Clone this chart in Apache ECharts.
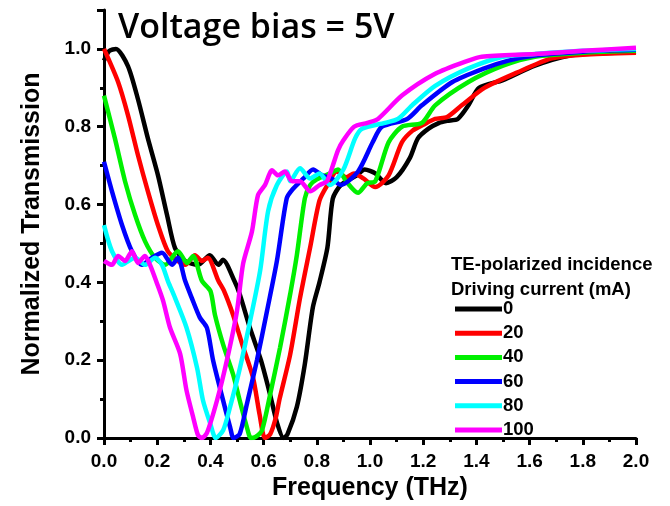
<!DOCTYPE html>
<html>
<head>
<meta charset="utf-8">
<script src="https://cdn.jsdelivr.net/npm/echarts@6/dist/echarts.min.js"></script>
<style>
html,body{margin:0;padding:0;background:#fff;}
#chart{width:670px;height:506px;}
</style>
</head>
<body>
<div id="chart"></div>
<script>
// Driving currents (mA)
const currents = ['0', '20', '40', '60', '80', '100'];
const colors = ['#000000', '#ff0000', '#00f000', '#0000ff', '#00ffff', '#ff00ff'];

// 0 mA
const freq0 = [0, 0.02, 0.045, 0.09, 0.128, 0.165, 0.203, 0.237, 0.267, 0.305, 0.353, 0.398, 0.43, 0.447, 0.49, 0.51, 0.55, 0.59, 0.625, 0.65, 0.675, 0.69, 0.725, 0.755, 0.785, 0.81, 0.84, 0.86, 0.89, 0.95, 0.98, 1.02, 1.06, 1.10, 1.15, 1.18, 1.22, 1.26, 1.29, 1.33, 1.37, 1.41, 1.5, 1.62, 1.75, 1.85, 2.0];
const trans0 = [0.97, 0.995, 1.0, 0.956, 0.87, 0.77, 0.675, 0.573, 0.488, 0.455, 0.445, 0.47, 0.445, 0.458, 0.404, 0.37, 0.28, 0.2, 0.11, 0.04, 0.0, 0.01, 0.08, 0.19, 0.335, 0.40, 0.49, 0.615, 0.65, 0.675, 0.69, 0.68, 0.655, 0.67, 0.72, 0.77, 0.795, 0.81, 0.815, 0.82, 0.855, 0.9, 0.92, 0.957, 0.983, 0.988, 0.993];

// 20 mA
const freq20 = [0, 0.053, 0.09, 0.128, 0.165, 0.203, 0.24, 0.278, 0.305, 0.342, 0.368, 0.39, 0.43, 0.45, 0.485, 0.52, 0.56, 0.585, 0.605, 0.625, 0.645, 0.66, 0.70, 0.737, 0.775, 0.81, 0.84, 0.875, 0.91, 0.94, 0.975, 1.02, 1.07, 1.12, 1.16, 1.2, 1.245, 1.29, 1.345, 1.43, 1.555, 1.68, 1.8, 2.0];
const trans20 = [1.0, 0.915, 0.83, 0.726, 0.634, 0.547, 0.48, 0.455, 0.445, 0.47, 0.455, 0.463, 0.404, 0.38, 0.317, 0.24, 0.156, 0.06, 0.0, 0.01, 0.05, 0.1, 0.215, 0.36, 0.49, 0.61, 0.65, 0.685, 0.67, 0.68, 0.667, 0.645, 0.675, 0.76, 0.79, 0.805, 0.82, 0.825, 0.855, 0.9, 0.94, 0.975, 0.985, 0.99];

// 40 mA
const freq40 = [0, 0.041, 0.079, 0.117, 0.154, 0.192, 0.23, 0.278, 0.312, 0.335, 0.368, 0.40, 0.417, 0.448, 0.485, 0.51, 0.537, 0.552, 0.57, 0.594, 0.624, 0.662, 0.70, 0.725, 0.755, 0.775, 0.80, 0.85, 0.88, 0.91, 0.955, 0.99, 1.02, 1.07, 1.12, 1.195, 1.245, 1.37, 1.5, 1.62, 1.8, 2.0];
const trans40 = [0.88, 0.77, 0.66, 0.573, 0.506, 0.463, 0.445, 0.48, 0.45, 0.468, 0.404, 0.378, 0.317, 0.24, 0.164, 0.097, 0.028, 0.0, 0.003, 0.02, 0.11, 0.233, 0.37, 0.47, 0.616, 0.65, 0.665, 0.68, 0.69, 0.66, 0.63, 0.655, 0.66, 0.76, 0.80, 0.81, 0.855, 0.915, 0.957, 0.98, 0.99, 0.995];

// 60 mA
const freq60 = [0, 0.03, 0.068, 0.105, 0.143, 0.18, 0.218, 0.256, 0.278, 0.305, 0.33, 0.36, 0.387, 0.41, 0.448, 0.474, 0.487, 0.51, 0.537, 0.575, 0.613, 0.65, 0.687, 0.71, 0.75, 0.786, 0.82, 0.86, 0.89, 0.955, 1.01, 1.045, 1.14, 1.195, 1.31, 1.43, 1.52, 1.62, 1.8, 2.0];
const trans60 = [0.71, 0.634, 0.547, 0.48, 0.445, 0.463, 0.476, 0.445, 0.463, 0.404, 0.36, 0.31, 0.283, 0.2, 0.096, 0.028, 0.0, 0.01, 0.087, 0.2, 0.327, 0.455, 0.616, 0.64, 0.667, 0.69, 0.675, 0.665, 0.65, 0.685, 0.76, 0.80, 0.82, 0.855, 0.915, 0.95, 0.97, 0.983, 0.993, 0.998];

// 80 mA
const freq80 = [0, 0.03, 0.068, 0.092, 0.117, 0.154, 0.192, 0.218, 0.24, 0.267, 0.31, 0.35, 0.372, 0.40, 0.42, 0.448, 0.474, 0.511, 0.549, 0.587, 0.617, 0.65, 0.688, 0.70, 0.737, 0.775, 0.81, 0.85, 0.9, 0.944, 0.97, 1.056, 1.105, 1.158, 1.245, 1.37, 1.5, 1.62, 1.8, 2.0];
const trans80 = [0.547, 0.48, 0.445, 0.455, 0.463, 0.445, 0.463, 0.445, 0.404, 0.36, 0.284, 0.18, 0.097, 0.036, 0.0, 0.02, 0.08, 0.18, 0.3, 0.43, 0.583, 0.65, 0.685, 0.66, 0.693, 0.667, 0.68, 0.65, 0.69, 0.77, 0.795, 0.81, 0.82, 0.855, 0.905, 0.95, 0.98, 0.987, 0.995, 1.0];

// 100 mA
const freq100 = [0, 0.03, 0.053, 0.079, 0.105, 0.128, 0.154, 0.173, 0.2, 0.222, 0.248, 0.286, 0.31, 0.335, 0.353, 0.368, 0.387, 0.425, 0.462, 0.5, 0.523, 0.556, 0.579, 0.605, 0.632, 0.654, 0.68, 0.707, 0.737, 0.775, 0.81, 0.838, 0.86, 0.88, 0.90, 0.94, 0.99, 1.03, 1.12, 1.245, 1.37, 1.42, 1.62, 1.8, 2.0];
const trans100 = [0.455, 0.445, 0.468, 0.455, 0.48, 0.45, 0.468, 0.445, 0.396, 0.353, 0.284, 0.217, 0.123, 0.054, 0.008, 0.0, 0.013, 0.097, 0.2, 0.327, 0.448, 0.53, 0.624, 0.65, 0.688, 0.675, 0.685, 0.66, 0.66, 0.634, 0.65, 0.66, 0.70, 0.74, 0.765, 0.80, 0.81, 0.82, 0.88, 0.936, 0.97, 0.98, 0.987, 0.995, 1.003];

const freqs = [freq0, freq20, freq40, freq60, freq80, freq100];
const transs = [trans0, trans20, trans40, trans60, trans80, trans100];

const chart = echarts.init(document.getElementById('chart'), null, {renderer: 'canvas'});
const FONT = 'Liberation Sans, Arial, sans-serif';
const labelFont = {fontFamily: FONT, fontWeight: 'bold', color: '#000'};

const series = currents.map((c, i) => ({
  name: c,
  type: 'line',
  data: freqs[i].map((f, k) => [f, transs[i][k]]),
  showSymbol: false,
  symbol: 'none',
  smooth: 0.25,
  lineStyle: {color: colors[i], width: 4.5},
  itemStyle: {color: colors[i]},
  z: 2 + i
}));

chart.setOption({
  animation: false,
  backgroundColor: '#fff',
  grid: {left: 104, right: 34, top: 10, bottom: 65, containLabel: false},
  xAxis: {
    type: 'value', min: 0, max: 2.0, interval: 0.2,
    name: 'Frequency (THz)', nameLocation: 'middle', nameGap: 38,
    nameTextStyle: Object.assign({fontSize: 25}, labelFont),
    axisLine: {lineStyle: {color: '#000', width: 3}},
    axisTick: {show: true, length: 7, lineStyle: {color: '#000', width: 3}},
    minorTick: {show: true, splitNumber: 2, length: 4, lineStyle: {color: '#000', width: 3}},
    axisLabel: Object.assign({fontSize: 19, margin: 14, formatter: v => v.toFixed(1)}, labelFont),
    splitLine: {show: false}
  },
  yAxis: {
    type: 'value', min: 0, max: 1.1, interval: 0.2,
    name: 'Normalized Transmission', nameLocation: 'middle', nameGap: 59,
    nameTextStyle: Object.assign({fontSize: 25}, labelFont),
    axisLine: {lineStyle: {color: '#000', width: 3}},
    axisTick: {show: true, length: 7, lineStyle: {color: '#000', width: 3}},
    minorTick: {show: true, splitNumber: 2, length: 4, lineStyle: {color: '#000', width: 3}},
    axisLabel: Object.assign({fontSize: 19, margin: 13, showMaxLabel: false,
      formatter: v => (Math.abs(v * 5 - Math.round(v * 5)) < 1e-6 ? v.toFixed(1) : '')}, labelFont),
    splitLine: {show: false}
  },
  legend: {
    orient: 'vertical', left: 450, top: 294,
    icon: 'rect',
    itemWidth: 47, itemHeight: 5, itemGap: 4.2,
    textStyle: Object.assign({fontSize: 18.5, lineHeight: 20, padding: [0, 0, 0, -4]}, labelFont),
    data: currents
  },
  graphic: [
    {type: 'text', left: 118, top: 11, style: {text: 'Voltage bias = 5V', fontSize: 34, fontWeight: 600, fontFamily: 'Open Sans, sans-serif', fill: '#000'}},
    {type: 'text', left: 451, top: 255, style: {text: 'TE-polarized incidence', fontSize: 18.5, fontWeight: 'bold', fontFamily: FONT, fill: '#000'}},
    {type: 'text', left: 451, top: 280, style: {text: 'Driving current (mA)', fontSize: 18.5, fontWeight: 'bold', fontFamily: FONT, fill: '#000'}}
  ],
  series: series
});
</script>
</body>
</html>
